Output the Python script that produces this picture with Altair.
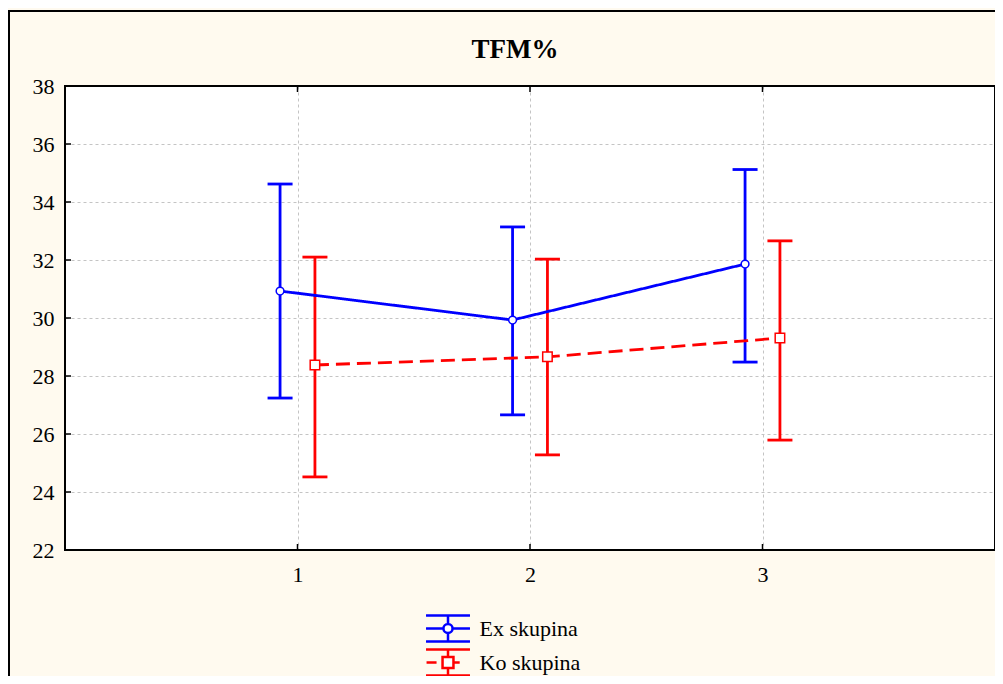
import altair as alt
import pandas as pd

# ---- data ----
groups = ["Ex skupina", "Ko skupina"]
times = [1, 2, 3]
ex_mean = [30.93, 29.93, 31.86]
ex_low = [27.24, 26.66, 28.48]
ex_high = [34.62, 33.14, 35.12]
ko_mean = [28.38, 28.66, 29.31]
ko_low = [24.52, 25.28, 25.79]
ko_high = [32.10, 32.03, 32.66]
y_ticks = [22, 24, 26, 28, 30, 32, 34, 36, 38]
x_ticks = [1, 2, 3]
title_text = "TFM%"

# ---- styles ----
BLUE = "#0000FF"
RED = "#FF0000"
CREAM = "#FFFAEF"
FONT = "Liberation Serif"
W, H = 930, 464
SW = 2.8
dodge = {"Ex skupina": -0.075, "Ko skupina": 0.075}

rows = []
for g, means, lows, highs in [(groups[0], ex_mean, ex_low, ex_high),
                              (groups[1], ko_mean, ko_low, ko_high)]:
    for t, m, lo, hi in zip(times, means, lows, highs):
        rows.append({"grp": g, "time": t, "pos": t + dodge[g],
                     "mean": m, "lo": lo, "hi": hi})
df = pd.DataFrame(rows)
df_yt = pd.DataFrame({"v": y_ticks})
df_xt = pd.DataFrame({"v": x_ticks})
one = pd.DataFrame({"k": [0]})

xs = alt.Scale(domain=[0, 4], nice=False, zero=False)
ys = alt.Scale(domain=[22, 38], nice=False, zero=False)
x_axis = alt.Axis(values=x_ticks, title=None, labelPadding=14, tickSize=0,
                  domain=False, grid=True, gridDash=[3, 3], gridColor="#c4c4c4",
                  labelFont=FONT, labelFontSize=22, labelColor="black")
y_axis = alt.Axis(values=y_ticks, title=None, labelPadding=11, tickSize=0,
                  domain=False, grid=True, gridDash=[3, 3], gridColor="#c4c4c4",
                  labelFont=FONT, labelFontSize=22, labelColor="black")
# legend scale (colour) and drawing scales (listed in reverse order so that
# their legends are not merged into the visible one)
cscale = alt.Scale(domain=groups, range=[BLUE, RED])
dscale = alt.Scale(domain=groups[::-1], range=[RED, BLUE])

path_ex = ("M-1.69,-1H1.69M-1.69,1H1.69M-1.69,0H-0.35M0.35,0H1.69"
           "M0,-1V-0.35M0,0.35V1"
           "M0.35,0A0.35,0.35,0,1,1,-0.35,0A0.35,0.35,0,1,1,0.35,0Z")
path_ko = ("M-1.69,-1H1.69M-1.69,1H1.69M-1.65,0H-0.88M0.42,0H0.9"
           "M0,-1V-0.42M0,0.42V1"
           "M-0.42,-0.42H0.42V0.42H-0.42Z")

legend_def = alt.Legend(orient="none", legendX=368.5, legendY=528, title=None,
                        padding=0, symbolSize=676, symbolStrokeWidth=2.5,
                        symbolFillColor="white", symbolOpacity=1,
                        labelFont=FONT, labelFontSize=22, labelColor="black",
                        labelOffset=17, rowPadding=-3)

X = alt.X("pos:Q", scale=xs, axis=x_axis)
S = alt.Stroke("grp:N", scale=dscale, legend=None)
F = alt.Fill("grp:N", scale=dscale, legend=None)
base = alt.Chart(df)

# frame around whole chart and border of plot area (decoration)
frame = alt.Chart(one).mark_rect(
    fillOpacity=0, stroke="black", strokeWidth=2
).encode(x=alt.value(-56), y=alt.value(-75), x2=alt.value(2000), y2=alt.value(2000))
border = alt.Chart(one).mark_rect(
    fillOpacity=0, stroke="black", strokeWidth=2
).encode(x=alt.value(0), y=alt.value(0), x2=alt.value(W), y2=alt.value(H))

ytick = alt.Chart(df_yt).mark_rule(color="black", strokeWidth=1.5).encode(
    y=alt.Y("v:Q", scale=ys, axis=y_axis), x=alt.value(0), x2=alt.value(6))
xtick_b = alt.Chart(df_xt).mark_rule(color="black", strokeWidth=1.5).encode(
    x=alt.X("v:Q", scale=xs, axis=x_axis), y=alt.value(H), y2=alt.value(H - 6))
xtick_t = alt.Chart(df_xt).mark_rule(color="black", strokeWidth=1.5).encode(
    x=alt.X("v:Q", scale=xs, axis=x_axis), y=alt.value(0), y2=alt.value(6))

# legend-only layer (no visible data marks)
leg = base.transform_filter("datum.pos < 0").mark_point(
    filled=False, fill="white", opacity=1
).encode(
    x=X, y=alt.Y("mean:Q", scale=ys, axis=y_axis),
    color=alt.Color("grp:N", scale=cscale, legend=legend_def),
    shape=alt.Shape("grp:N", scale=alt.Scale(domain=groups, range=[path_ex, path_ko]),
                    legend=legend_def))

err = base.mark_rule(strokeWidth=SW).encode(
    x=X, y=alt.Y("lo:Q", scale=ys, axis=y_axis), y2="hi:Q", stroke=S)
cap_lo = base.mark_tick(orient="horizontal", size=25, thickness=SW, opacity=1).encode(
    x=X, y=alt.Y("lo:Q", scale=ys, axis=y_axis), fill=F)
cap_hi = base.mark_tick(orient="horizontal", size=25, thickness=SW, opacity=1).encode(
    x=X, y=alt.Y("hi:Q", scale=ys, axis=y_axis), fill=F)

lines = base.mark_line(strokeWidth=SW).encode(
    x=X, y=alt.Y("mean:Q", scale=ys, axis=y_axis),
    stroke=S,
    strokeDash=alt.StrokeDash("grp:N", scale=alt.Scale(domain=groups[::-1], range=[[14, 7], [1, 0]]),
                              legend=None),
    detail="grp:N")

pts_ex = base.transform_filter(alt.datum.grp == groups[0]).mark_point(
    shape="circle", size=60, filled=False, fill="white", strokeWidth=1.5, opacity=1
).encode(x=X, y=alt.Y("mean:Q", scale=ys, axis=y_axis), stroke=S)
pts_ko = base.transform_filter(alt.datum.grp == groups[1]).mark_point(
    shape="square", size=90, filled=False, fill="white", strokeWidth=1.5, opacity=1
).encode(x=X, y=alt.Y("mean:Q", scale=ys, axis=y_axis), stroke=S)

chart = alt.layer(
    leg, err, ytick, xtick_b, xtick_t, cap_lo, cap_hi, lines, pts_ex, pts_ko,
    border, frame
).properties(
    width=W, height=H,
    title=alt.Title(title_text, font=FONT, fontSize=27, fontWeight="bold",
                    color="black", anchor="middle", dx=-15, offset=0, dy=75,
                    baseline="alphabetic"),
    autosize=alt.AutoSizeParams(type="none"),
    padding={"left": 57, "top": 78, "right": 0, "bottom": 126},
).configure(
    background=CREAM,
).configure_view(
    stroke=None, fill="white"
).configure_legend(
    labelFont=FONT
)

chart.save("out.html", embed_options={"renderer": "svg", "actions": False})
